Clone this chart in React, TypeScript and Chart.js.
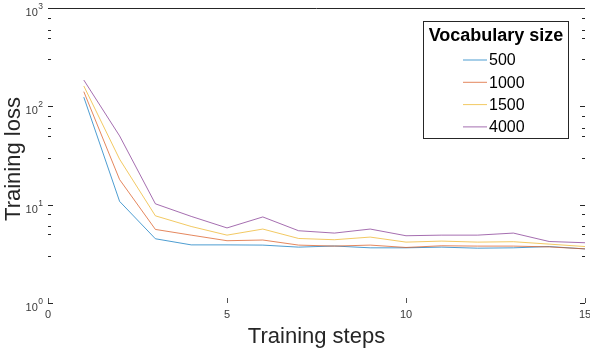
import { useEffect, useRef } from "react";
import { Chart, registerables } from "chart.js";

Chart.register(...registerables);

const steps = [1, 2, 3, 4, 5, 6, 7, 8, 9, 10, 11, 12, 13, 14, 15];
const loss500 = [124, 10.8, 4.5, 3.9, 3.9, 3.88, 3.7, 3.8, 3.64, 3.64, 3.7, 3.61, 3.64, 3.75, 3.55];
const loss1000 = [141, 18, 5.6, 4.9, 4.3, 4.37, 3.88, 3.79, 3.88, 3.67, 3.82, 3.79, 3.79, 3.72, 3.55];
const loss1500 = [161, 29, 7.7, 6.0, 4.9, 5.65, 4.53, 4.4, 4.68, 4.16, 4.26, 4.16, 4.2, 3.97, 3.75];
const loss4000 = [185, 50, 10.2, 7.6, 5.8, 7.5, 5.43, 5.14, 5.65, 4.83, 4.9, 4.9, 5.14, 4.22, 4.1];

const seriesLabels = ["500", "1000", "1500", "4000"];
const seriesColors = ["#0072BD", "#D95319", "#EDB120", "#7E2F8E"];
const seriesValues = [loss500, loss1000, loss1500, loss4000];

const xTicks = [0, 5, 10, 15];
const xTickLabels = ["0", "5", "10", "15"];
const yTicks = [1, 10, 100, 1000];
const yTickExponents = ["0", "1", "2", "3"];
const yMinorFactors = [3, 5, 6, 8];
const legendTitle = "Vocabulary size";
const xTitle = "Training steps";
const yTitle = "Training loss";

const FONT = "'Liberation Sans', Arial, Helvetica, sans-serif";
const AXIS = "#262626";

const overlay = {
  id: "matlabOverlay",
  afterDraw(chart: any) {
    const ctx = chart.ctx as CanvasRenderingContext2D;
    const { left, right, top, bottom } = chart.chartArea;
    const xs = chart.scales.x;
    const ys = chart.scales.y;
    ctx.save();
    ctx.strokeStyle = AXIS;
    ctx.lineWidth = 1;
    ctx.beginPath();
    ctx.moveTo(left, Math.round(top) + 0.5);
    ctx.lineTo(right, Math.round(top) + 0.5);
    ctx.stroke();
    const hline = (x0: number, x1: number, py: number) => {
      ctx.beginPath();
      ctx.moveTo(x0, Math.round(py) + 0.5);
      ctx.lineTo(x1, Math.round(py) + 0.5);
      ctx.stroke();
    };
    yTicks.forEach((v) => {
      const py = ys.getPixelForValue(v);
      hline(left, left + 5, py);
      hline(right - 5, right, py);
    });
    for (let d = 0; d < yTicks.length - 1; d++) {
      yMinorFactors.forEach((f) => {
        const py = ys.getPixelForValue(yTicks[d] * f);
        hline(left, left + 3, py);
        hline(right - 3, right, py);
      });
    }
    ctx.lineWidth = 0.8;
    xTicks.forEach((v) => {
      const px = Math.round(xs.getPixelForValue(v)) + 0.5;
      ctx.beginPath();
      ctx.moveTo(px, bottom);
      ctx.lineTo(px, bottom - 5);
      ctx.stroke();
    });
    ctx.fillStyle = "#3a3a3a";
    yTicks.forEach((v, i) => {
      const py = ys.getPixelForValue(v);
      ctx.font = `8.5px ${FONT}`;
      ctx.textAlign = "right";
      ctx.textBaseline = "alphabetic";
      const ew = ctx.measureText(yTickExponents[i]).width;
      ctx.fillText(yTickExponents[i], 43, py + 1);
      ctx.font = `11px ${FONT}`;
      ctx.fillText("10", 43 - ew - 0.5, py + 8);
    });
    ctx.font = `11px ${FONT}`;
    ctx.textAlign = "center";
    ctx.textBaseline = "top";
    xTicks.forEach((v, i) => {
      const px = xs.getPixelForValue(v);
      ctx.fillText(xTickLabels[i], px, bottom + 6);
    });
    ctx.fillStyle = AXIS;
    ctx.font = `22px ${FONT}`;
    ctx.textAlign = "center";
    ctx.textBaseline = "middle";
    ctx.fillText(xTitle, (left + right) / 2, 337);
    ctx.save();
    ctx.translate(14, 159);
    ctx.rotate(-Math.PI / 2);
    ctx.fillText(yTitle, 0, 0);
    ctx.restore();
    const lx0 = 423, ly0 = 21, lx1 = 568, ly1 = 138;
    ctx.fillStyle = "#ffffff";
    ctx.fillRect(lx0, ly0, lx1 - lx0, ly1 - ly0);
    ctx.strokeStyle = AXIS;
    ctx.lineWidth = 1;
    ctx.strokeRect(lx0 + 0.5, ly0 + 0.5, lx1 - lx0, ly1 - ly0);
    ctx.fillStyle = "#000000";
    ctx.font = `bold 18px ${FONT}`;
    ctx.textAlign = "center";
    ctx.textBaseline = "middle";
    ctx.fillText(legendTitle, (lx0 + lx1) / 2 + 0.5, 36);
    ctx.font = `16px ${FONT}`;
    ctx.textAlign = "left";
    chart.data.datasets.forEach((ds: any, i: number) => {
      const cy = 60 + i * 22.3;
      ctx.strokeStyle = ds.borderColor;
      ctx.lineWidth = 0.7;
      ctx.beginPath();
      ctx.moveTo(463, cy);
      ctx.lineTo(487, cy);
      ctx.stroke();
      ctx.fillStyle = "#000000";
      ctx.fillText(ds.label, 489, cy + 1);
    });
    ctx.restore();
  },
};

export default function App() {
  const canvasRef = useRef<HTMLCanvasElement | null>(null);
  useEffect(() => {
    const canvas = canvasRef.current;
    if (!canvas) return;
    const datasets = seriesValues.map((vals, i) => ({
      label: seriesLabels[i],
      data: steps.map((s, j) => ({ x: s, y: vals[j] })),
      borderColor: seriesColors[i],
      backgroundColor: seriesColors[i],
      borderWidth: 0.7,
      pointRadius: 0,
      tension: 0,
      fill: false,
      order: seriesValues.length - 1 - i,
    }));
    const chart = new Chart(canvas, {
      type: "line",
      data: { datasets },
      options: {
        animation: false,
        responsive: false,
        devicePixelRatio: 1,
        layout: { padding: { left: 0, right: 5, top: 8, bottom: 0 } },
        plugins: { legend: { display: false }, tooltip: { enabled: false } },
        scales: {
          x: {
            type: "linear",
            min: 0,
            max: 15,
            ticks: { display: false },
            grid: { display: false },
            border: { display: false },
            afterFit: (s: any) => {
              s.height = 47;
            },
          },
          y: {
            type: "logarithmic",
            min: 1,
            max: 1000,
            ticks: { display: false },
            grid: { display: false },
            border: { display: false },
            afterFit: (s: any) => {
              s.width = 48;
            },
          },
        },
      },
      plugins: [overlay],
    } as any);
    return () => chart.destroy();
  }, []);
  return (
    <div style={{ position: "absolute", left: 0, top: 0, width: 590, height: 350, background: "#fff" }}>
      <canvas ref={canvasRef} width={590} height={350} style={{ width: 590, height: 350, display: "block" }} />
    </div>
  );
}
